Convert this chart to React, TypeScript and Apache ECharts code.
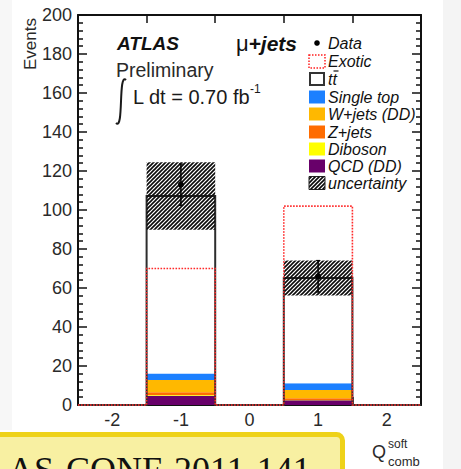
import React, { useEffect, useRef } from "react";
import * as echarts from "echarts";

const categories = ["-2", "-1", "0", "1", "2"];
const qcd = [0, 4.8, 0, 2.5, 0];
const diboson = [0, 0.3, 0, 0.1, 0];
const zJets = [0, 1.4, 0, 0.8, 0];
const wJets = [0, 6.3, 0, 4.3, 0];
const singleTop = [0, 3.4, 0, 3.4, 0];
const ttbar = [0, 91.0, 0, 54.0, 0];
const exotic = [0, 70, 0, 102, 0];
const dataValues: (number | null)[] = [null, 113, null, 66, null];
const dataErrors = [0, 10.6, 0, 8.1, 0];
const mcUncertainty = [0, 17.3, 0, 9.0, 0];
const yMin = 0;
const yMax = 200;
const yInterval = 20;

const stackNames = ["QCD (DD)", "Diboson", "Z+jets", "W+jets (DD)", "Single top"];
const stackArrays = [qcd, diboson, zJets, wJets, singleTop];
const stackColors = ["#68006a", "#ffff00", "#ff6c00", "#ffb800", "#1c80ff"];

const legendLabels = ["Data", "Exotic", "tt", "Single top", "W+jets (DD)", "Z+jets", "Diboson", "QCD (DD)", "uncertainty"];

const SANS = '"Liberation Sans", Arial, Helvetica, sans-serif';

function makeHatch() {
  const c = document.createElement("canvas");
  c.width = 4;
  c.height = 4;
  const ctx = c.getContext("2d")!;
  ctx.strokeStyle = "#0a0a0a";
  ctx.lineWidth = 1.6;
  ctx.beginPath();
  ctx.moveTo(-1, 5);
  ctx.lineTo(5, -1);
  ctx.moveTo(-1, 1);
  ctx.lineTo(1, -1);
  ctx.moveTo(3, 5);
  ctx.lineTo(5, 3);
  ctx.stroke();
  return { image: c, repeat: "repeat", imageWidth: 4, imageHeight: 4 } as any;
}

function stepSeries(name: string, values: number[], style: any, z: number) {
  return {
    type: "custom",
    name,
    z,
    silent: true,
    clip: false,
    data: [[0, 0]],
    encode: { x: 0, y: 1 },
    renderItem: (_p: any, api: any) => {
      const w = api.size([1, 0])[0];
      const pts: number[][] = [];
      const s = api.coord([0, 0]);
      pts.push([s[0] - w / 2, s[1]]);
      values.forEach((v, i) => {
        const c = api.coord([i, v]);
        pts.push([c[0] - w / 2, c[1]], [c[0] + w / 2, c[1]]);
      });
      const e = api.coord([values.length - 1, 0]);
      pts.push([e[0] + w / 2, e[1]]);
      return { type: "polyline", shape: { points: pts }, style: { ...style, fill: null } };
    },
  };
}

export default function App() {
  const ref = useRef<HTMLDivElement>(null);
  useEffect(() => {
    if (!ref.current) return;
    const chart = echarts.init(ref.current, undefined, { renderer: "svg" });
    const hatch = makeHatch();
    const total = categories.map((_, i) => stackArrays.reduce((a, arr) => a + arr[i], 0) + ttbar[i]);

    const axisLineStyle = { color: "#111", width: 2 };
    const tickStyle = { color: "#111", width: 1.5 };

    const legendRowsY = [43, 61, 79, 97, 114, 132, 149, 166, 183];
    const lx = 309;
    const legendEls: any[] = [];
    legendLabels.forEach((lab, k) => {
      const y = legendRowsY[k];
      legendEls.push({
        type: "text",
        x: 328,
        y,
        style: { text: lab, font: `italic 16px ${SANS}`, fill: "#111", align: "left", verticalAlign: "middle", textAlign: "left", textVerticalAlign: "middle" },
      });
    });
    legendEls.push({ type: "circle", shape: { cx: lx + 8, cy: legendRowsY[0], r: 2.8 }, style: { fill: "#000" } });
    legendEls.push({ type: "rect", shape: { x: lx, y: legendRowsY[1] - 6, width: 16, height: 13 }, style: { fill: "#fff", stroke: "#ff2020", lineWidth: 1.5, lineDash: [1.5, 1.5] } });
    legendEls.push({ type: "rect", shape: { x: lx + 1, y: legendRowsY[2] - 6, width: 14, height: 12 }, style: { fill: "#fff", stroke: "#333", lineWidth: 2 } });
    legendEls.push({ type: "line", shape: { x1: 333.5, y1: legendRowsY[2] - 8, x2: 338.5, y2: legendRowsY[2] - 8 }, style: { stroke: "#111", lineWidth: 1.2 } });
    const swatchColors = [stackColors[4], stackColors[3], stackColors[2], stackColors[1], stackColors[0]];
    swatchColors.forEach((c, j) => {
      legendEls.push({ type: "rect", shape: { x: lx, y: legendRowsY[3 + j] - 6.5, width: 16, height: 13 }, style: { fill: c } });
    });
    legendEls.push({ type: "rect", shape: { x: lx, y: legendRowsY[8] - 6.5, width: 16, height: 13 }, style: { fill: hatch, stroke: "#222", lineWidth: 1 } });

    const option: any = {
      animation: false,
      backgroundColor: "#ffffff",
      grid: { left: 78, right: 40, top: 15, bottom: 64, containLabel: false },
      xAxis: [
        {
          type: "category",
          data: categories,
          position: "bottom",
          boundaryGap: true,
          axisLine: { show: true, onZero: false, lineStyle: axisLineStyle },
          axisTick: { show: true, inside: true, length: 8, lineStyle: tickStyle },
          axisLabel: { interval: 0, color: "#2a2a2a", fontSize: 18, fontFamily: SANS, margin: 6 },
          splitLine: { show: false },
        },
        {
          type: "category",
          data: categories,
          position: "top",
          boundaryGap: true,
          axisLine: { show: true, onZero: false, lineStyle: axisLineStyle },
          axisTick: { show: true, inside: true, length: 8, lineStyle: tickStyle },
          axisLabel: { show: false },
          splitLine: { show: false },
        },
      ],
      yAxis: [
        {
          type: "value",
          min: yMin,
          max: yMax,
          interval: yInterval,
          position: "left",
          axisLine: { show: true, lineStyle: axisLineStyle },
          axisTick: { show: true, inside: true, length: 9, lineStyle: tickStyle },
          minorTick: { show: true, splitNumber: 5, length: 5, lineStyle: tickStyle },
          axisLabel: { color: "#2a2a2a", fontSize: 18, fontFamily: SANS, margin: 6 },
          splitLine: { show: false },
          minorSplitLine: { show: false },
        },
        {
          type: "value",
          min: yMin,
          max: yMax,
          interval: yInterval,
          position: "right",
          axisLine: { show: true, lineStyle: axisLineStyle },
          axisTick: { show: true, inside: true, length: 9, lineStyle: tickStyle },
          minorTick: { show: true, splitNumber: 5, length: 5, lineStyle: tickStyle },
          axisLabel: { show: false },
          splitLine: { show: false },
          minorSplitLine: { show: false },
        },
      ],
      series: [
        ...stackArrays.map((arr, k) => ({
          type: "bar",
          name: stackNames[k],
          stack: "mc",
          data: arr,
          barWidth: "100%",
          silent: true,
          itemStyle: { color: stackColors[k] },
          z: 2,
        })),
        {
          type: "bar",
          name: "ttbar",
          stack: "mc",
          data: ttbar,
          barWidth: "100%",
          silent: true,
          itemStyle: { color: "#ffffff" },
          z: 2,
        },
        stepSeries("ttbar outline", total, { stroke: "#2e2e2e", lineWidth: 2 }, 4),
        stepSeries("Exotic", exotic, { stroke: "#ff2a2a", lineWidth: 1.6, lineDash: [1.6, 1.4] }, 6),
        {
          type: "custom",
          name: "uncertainty",
          z: 5,
          silent: true,
          data: categories.map((_, i) => [i, total[i], mcUncertainty[i]]),
          encode: { x: 0, y: 1 },
          renderItem: (_p: any, api: any) => {
            const i = api.value(0);
            const t = api.value(1);
            const e = api.value(2);
            if (!e) return { type: "group", children: [] };
            const top = api.coord([i, t + e]);
            const bot = api.coord([i, t - e]);
            const w = api.size([1, 0])[0];
            return {
              type: "rect",
              shape: { x: top[0] - w / 2, y: top[1], width: w, height: bot[1] - top[1] },
              style: { fill: hatch },
            };
          },
        },
        {
          type: "custom",
          name: "Data",
          z: 8,
          silent: true,
          data: dataValues
            .map((v, i) => (v == null ? null : [i, v, dataErrors[i]]))
            .filter((d) => d !== null),
          encode: { x: 0, y: 1 },
          renderItem: (_p: any, api: any) => {
            const i = api.value(0);
            const v = api.value(1);
            const e = api.value(2);
            const c = api.coord([i, v]);
            const t = api.coord([i, v + e]);
            const b = api.coord([i, v - e]);
            return {
              type: "group",
              children: [
                { type: "line", shape: { x1: c[0], y1: t[1], x2: c[0], y2: b[1] }, style: { stroke: "#000", lineWidth: 1.5 } },
                { type: "line", shape: { x1: c[0] - 2, y1: t[1], x2: c[0] + 2, y2: t[1] }, style: { stroke: "#000", lineWidth: 1.2 } },
                { type: "line", shape: { x1: c[0] - 2, y1: b[1], x2: c[0] + 2, y2: b[1] }, style: { stroke: "#000", lineWidth: 1.2 } },
                { type: "circle", shape: { cx: c[0], cy: c[1], r: 3 }, style: { fill: "#000" } },
              ],
            };
          },
        },
      ],
      graphic: [
        { type: "rect", z: -10, shape: { x: 443, y: 0, width: 18, height: 469 }, style: { fill: "#f4f4f4" } },
        { type: "rect", z: -10, shape: { x: 0, y: 0, width: 12, height: 430 }, style: { fill: "#f7f7f7" } },
        {
          type: "text",
          x: 30,
          y: 44,
          rotation: Math.PI / 2,
          style: { text: "Events", font: `17px ${SANS}`, fill: "#2a2a2a", align: "center", verticalAlign: "middle", textAlign: "center", textVerticalAlign: "middle" },
        },
        {
          type: "text",
          x: 117,
          y: 43,
          style: { text: "ATLAS", font: `italic bold 19px ${SANS}`, fill: "#111", align: "left", verticalAlign: "middle", textAlign: "left", textVerticalAlign: "middle" },
        },
        {
          type: "text",
          x: 116,
          y: 70,
          style: { text: "Preliminary", font: `19.5px ${SANS}`, fill: "#2a2a2a", align: "left", verticalAlign: "middle", textAlign: "left", textVerticalAlign: "middle" },
        },
        {
          type: "bezierCurve",
          shape: { x1: 116, y1: 123, cpx1: 124, cpy1: 131, cpx2: 118, cpy2: 72, x2: 126, y2: 80 },
          style: { stroke: "#1a1a1a", lineWidth: 2, fill: null },
        },
        {
          type: "text",
          x: 133,
          y: 97,
          style: { text: "L dt = 0.70 fb", font: `20px ${SANS}`, fill: "#1a1a1a", align: "left", verticalAlign: "middle", textAlign: "left", textVerticalAlign: "middle" },
        },
        {
          type: "text",
          x: 250,
          y: 89,
          style: { text: "-1", font: `12px ${SANS}`, fill: "#1a1a1a", align: "left", verticalAlign: "middle", textAlign: "left", textVerticalAlign: "middle" },
        },
        {
          type: "text",
          x: 297,
          y: 43,
          style: {
            text: "{a|μ}{b|+jets}",
            align: "right",
            verticalAlign: "middle",
            textAlign: "right",
            textVerticalAlign: "middle",
            rich: {
              a: { font: `22px ${SANS}`, fill: "#111", color: "#111" },
              b: { font: `italic bold 21px ${SANS}`, fill: "#111", color: "#111" },
            },
          },
        },
        ...legendEls,
        {
          type: "rect",
          shape: { x: -10, y: 434.5, width: 352.5, height: 60, r: 6 },
          style: { fill: "#f8f0a2", stroke: "#eed219", lineWidth: 5 },
        },
        {
          type: "text",
          x: -58,
          y: 470,
          style: { text: "ATLAS-CONF-2011-141", font: `36px "Liberation Serif", "Times New Roman", serif`, fill: "#111", align: "left", verticalAlign: "middle", textAlign: "left", textVerticalAlign: "middle" },
        },
        {
          type: "text",
          x: 372,
          y: 452,
          style: { text: "Q", font: `18px ${SANS}`, fill: "#2a2a2a", align: "left", verticalAlign: "middle", textAlign: "left", textVerticalAlign: "middle" },
        },
        {
          type: "text",
          x: 388,
          y: 444,
          style: { text: "soft", font: `12px ${SANS}`, fill: "#2a2a2a", align: "left", verticalAlign: "middle", textAlign: "left", textVerticalAlign: "middle" },
        },
        {
          type: "text",
          x: 388,
          y: 461,
          style: { text: "comb", font: `13px ${SANS}`, fill: "#2a2a2a", align: "left", verticalAlign: "middle", textAlign: "left", textVerticalAlign: "middle" },
        },
      ],
    };
    chart.setOption(option);
    return () => chart.dispose();
  }, []);
  return (
    <div style={{ position: "fixed", left: 0, top: 0, width: 461, height: 469, background: "#fff" }}>
      <div ref={ref} style={{ width: 461, height: 469 }} />
    </div>
  );
}
